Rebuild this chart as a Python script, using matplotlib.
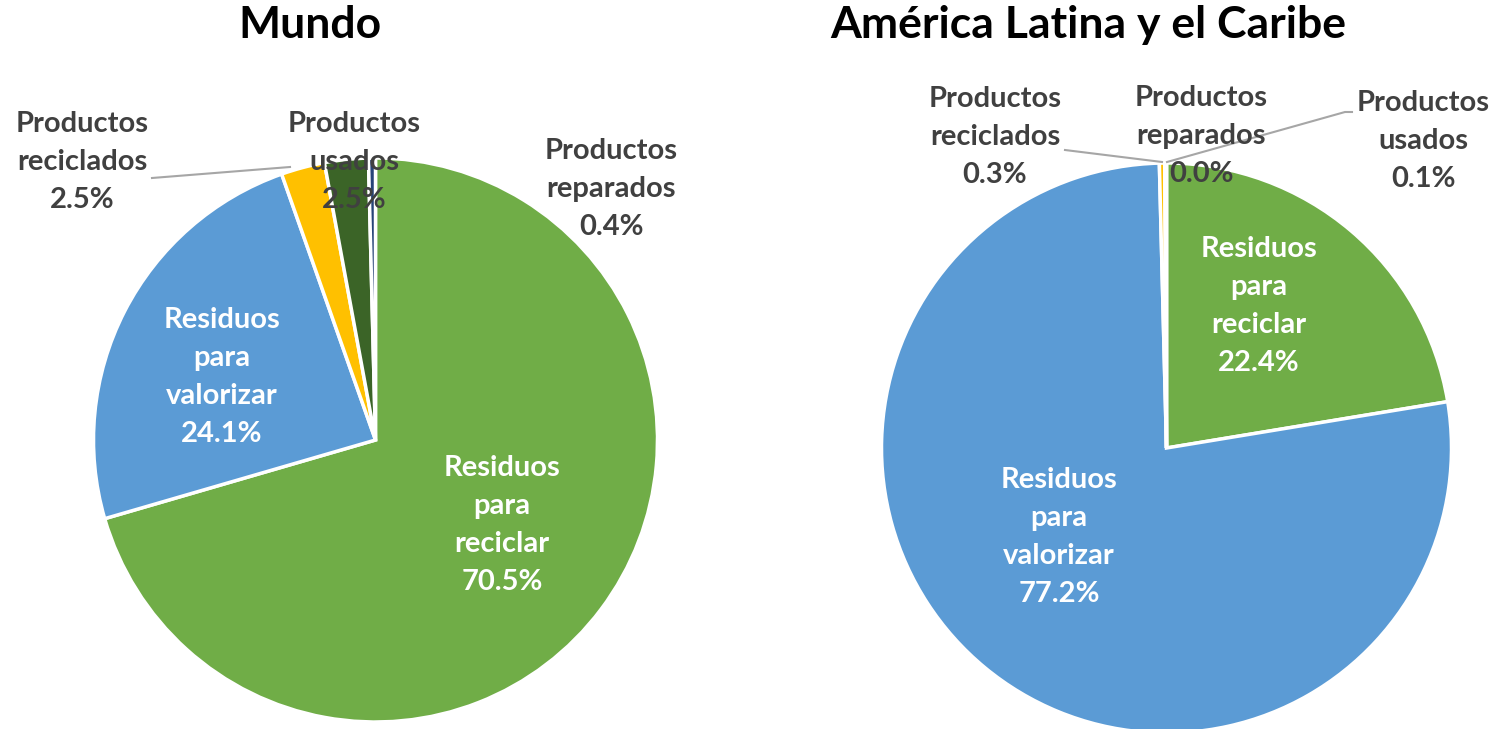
import matplotlib.pyplot as plt

# datos (%)
categorias = ['Residuos para reciclar', 'Residuos para valorizar', 'Productos reciclados',
              'Productos usados', 'Productos reparados']
mundo = [70.5, 24.1, 2.5, 2.5, 0.4]
alc = [22.4, 77.2, 0.3, 0.1, 0.0]

colores = ['#70AD47', '#5B9BD5', '#FFC000', '#3B6427', '#264478']
gris = '#404040'

plt.rcParams['font.family'] = ['Lato', 'DejaVu Sans']
plt.rcParams['font.weight'] = 'bold'

W, H = 1509, 729
fig = plt.figure(figsize=(W / 100, H / 100), dpi=100)
ax = fig.add_axes([0, 0, 1, 1])


def y(p):  # coordenada en pixeles desde arriba
    return H - p


def pastel(valores, centro, radio):
    ax.pie(valores, colors=colores, startangle=90, counterclock=False,
           center=centro, radius=radio, frame=True,
           wedgeprops=dict(edgecolor='white', linewidth=2.5))


pastel(mundo, (375.5, y(440)), 282)
pastel(alc, (1166.5, y(448)), 285)
ax.set_xlim(0, W)
ax.set_ylim(0, H)
ax.set_aspect('equal')
ax.axis('off')

fs = 21


def etiqueta(txt, px, py, color=gris):
    ax.text(px, y(py), txt, ha='center', va='center', fontsize=fs,
            color=color, fontweight='bold', linespacing=1.57)


# Mundo
ax.text(310, y(25), 'Mundo', ha='center', va='center', fontsize=32, fontweight='bold', color='black')
etiqueta('Residuos\npara\nreciclar\n%.1f%%' % mundo[0], 502, 525, 'white')
etiqueta('Residuos\npara\nvalorizar\n%.1f%%' % mundo[1], 222, 377, 'white')
etiqueta('Productos\nreciclados\n%.1f%%' % mundo[2], 82, 162)
etiqueta('Productos\nusados\n%.1f%%' % mundo[3], 354, 162)
etiqueta('Productos\nreparados\n%.1f%%' % mundo[4], 611, 189)
ax.plot([152, 290], [y(178), y(167)], color='#A6A6A6', lw=1.5)

# America Latina y el Caribe
ax.text(1088, y(25), 'América Latina y el Caribe', ha='center', va='center', fontsize=32,
        fontweight='bold', color='black')
etiqueta('Residuos\npara\nreciclar\n%.1f%%' % alc[0], 1259, 306, 'white')
etiqueta('Residuos\npara\nvalorizar\n%.1f%%' % alc[1], 1059, 537, 'white')
etiqueta('Productos\nreciclados\n%.1f%%' % alc[2], 995, 137)
etiqueta('Productos\nreparados\n%.1f%%' % alc[4], 1201, 136)
etiqueta('Productos\nusados\n%.1f%%' % alc[3], 1423, 141)
ax.plot([1065, 1162], [y(150), y(162)], color='#A6A6A6', lw=1.5)
ax.plot([1167, 1345, 1352], [y(162), y(112), y(112)], color='#A6A6A6', lw=1.5)

fig.savefig('out.png', dpi=100)
